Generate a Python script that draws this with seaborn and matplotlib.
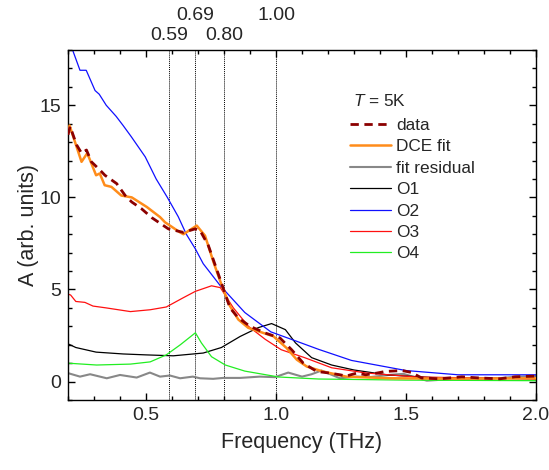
import matplotlib
matplotlib.use('Agg')
import matplotlib.pyplot as plt
import seaborn as sns
import numpy as np

# frequency (THz) / amplitude pairs
data_f = [0.2, 0.208, 0.233, 0.252, 0.271, 0.29, 0.323, 0.342, 0.387, 0.42, 0.445, 0.483, 0.522, 0.586,
          0.644, 0.689, 0.708, 0.74, 0.785, 0.823, 0.855, 0.9, 0.958, 1.015, 1.06, 1.105, 1.157, 1.208,
          1.246, 1.27, 1.31, 1.345, 1.387, 1.42, 1.485, 1.52, 1.56, 1.63, 1.715, 1.78, 1.86, 1.92, 2.0]
data_a = [13.4, 13.85, 12.85, 12.4, 12.57, 11.93, 11.48, 11.2, 10.75, 10.1, 9.75, 9.38, 8.9, 8.29,
          8.1, 8.29, 8.2, 7.38, 5.56, 4.0, 3.46, 3.0, 2.64, 2.37, 1.73, 1.0, 0.55, 0.46,
          0.37, 0.3, 0.46, 0.37, 0.46, 0.55, 0.6, 0.5, 0.2, 0.15, 0.26, 0.2, 0.15, 0.26, 0.3]

fit_f = [0.2, 0.206, 0.252, 0.274, 0.308, 0.322, 0.341, 0.367, 0.405, 0.445, 0.503, 0.554, 0.573, 0.631,
         0.644, 0.695, 0.727, 0.76, 0.792, 0.823, 0.855, 0.893, 0.932, 0.99, 1.041, 1.08, 1.118, 1.18,
         1.27, 1.44, 1.7, 2.0]
fit_a = [13.5, 13.9, 11.93, 12.4, 11.2, 11.3, 10.66, 10.57, 10.1, 10.0, 9.48, 8.93, 8.65, 8.1,
         8.0, 8.47, 7.92, 6.47, 5.19, 4.1, 3.37, 2.92, 2.73, 2.46, 1.82, 1.19, 0.82, 0.55,
         0.27, 0.18, 0.16, 0.18]

res_f = [0.2, 0.246, 0.285, 0.349, 0.4, 0.464, 0.515, 0.554, 0.592, 0.631, 0.68, 0.708, 0.758, 0.797,
         0.862, 0.938, 0.996, 1.047, 1.1, 1.137, 1.175, 1.246, 1.31, 1.36, 1.44, 1.49, 1.58, 1.69,
         1.79, 1.92, 2.0]
res_a = [0.46, 0.27, 0.4, 0.18, 0.36, 0.22, 0.49, 0.27, 0.33, 0.18, 0.27, 0.18, 0.15, 0.2,
         0.2, 0.27, 0.24, 0.49, 0.27, 0.4, 0.6, 0.18, 0.27, 0.24, 0.37, 0.42, 0.05, 0.15,
         0.1, 0.26, 0.3]

o1_f = [0.2, 0.23, 0.308, 0.412, 0.5, 0.605, 0.72, 0.79, 0.862, 0.932, 0.983, 1.036, 1.075, 1.137,
        1.214, 1.3, 1.43, 1.6, 2.0]
o1_a = [2.05, 1.85, 1.6, 1.5, 1.45, 1.4, 1.55, 1.85, 2.45, 2.93, 3.15, 2.82, 2.1, 1.3,
        0.9, 0.63, 0.36, 0.22, 0.15]

o2_f = [0.2, 0.215, 0.246, 0.27, 0.304, 0.32, 0.347, 0.385, 0.412, 0.443, 0.497, 0.539, 0.582, 0.624,
        0.655, 0.69, 0.72, 0.786, 0.88, 0.98, 1.087, 1.164, 1.29, 1.5, 1.7, 2.0]
o2_a = [18.7, 18.1, 16.9, 16.9, 15.8, 15.6, 15.0, 14.4, 13.9, 13.3, 12.2, 11.0, 10.0, 8.95,
        8.0, 7.2, 6.4, 5.2, 3.75, 2.7, 2.15, 1.75, 1.15, 0.6, 0.37, 0.37]

o3_f = [0.2, 0.21, 0.23, 0.265, 0.296, 0.347, 0.44, 0.516, 0.578, 0.643, 0.69, 0.752, 0.786, 0.836,
        0.894, 0.958, 1.02, 1.11, 1.214, 1.345, 1.54, 2.0]
o3_a = [4.75, 4.7, 4.35, 4.3, 4.1, 4.0, 3.8, 3.9, 4.05, 4.55, 4.9, 5.2, 5.1, 4.0,
        3.0, 2.3, 1.73, 1.3, 0.75, 0.47, 0.25, 0.15]

o4_f = [0.2, 0.31, 0.44, 0.516, 0.578, 0.632, 0.69, 0.713, 0.752, 0.805, 0.88, 1.01, 1.164, 1.5, 2.0]
o4_a = [1.0, 0.9, 0.95, 1.07, 1.45, 2.0, 2.65, 2.1, 1.35, 0.9, 0.57, 0.25, 0.14, 0.08, 0.05]

peak_freqs = [0.59, 0.69, 0.80, 1.00]
peak_labels = ['0.59', '0.69', '0.80', '1.00']

sns.set_style('ticks')
plt.rcParams['font.family'] = ['Liberation Sans', 'DejaVu Sans']
plt.rcParams['mathtext.fontset'] = 'custom'
plt.rcParams['mathtext.it'] = 'Liberation Sans:italic'
plt.rcParams['mathtext.rm'] = 'Liberation Sans'

fig = plt.figure(figsize=(5.49, 4.70), dpi=100)
ax = fig.add_axes([0.1239, 0.1489, 0.8524, 0.7447])

sns.lineplot(x=data_f, y=data_a, ax=ax, color='#8B0000', lw=2.0, linestyle=(0, (3, 2)), label='data', zorder=5)
sns.lineplot(x=fit_f, y=fit_a, ax=ax, color='#FF8C1A', lw=1.8, label='DCE fit', zorder=4)
sns.lineplot(x=res_f, y=res_a, ax=ax, color='#888888', lw=1.5, label='fit residual')
sns.lineplot(x=o1_f, y=o1_a, ax=ax, color='black', lw=0.9, label='O1')
sns.lineplot(x=o2_f, y=o2_a, ax=ax, color='#1010FF', lw=0.9, label='O2')
sns.lineplot(x=o3_f, y=o3_a, ax=ax, color='#FF1010', lw=0.9, label='O3')
sns.lineplot(x=o4_f, y=o4_a, ax=ax, color='#22EE22', lw=0.9, label='O4')

for i, f in enumerate(peak_freqs):
    ax.axvline(f, color='black', lw=0.7, linestyle=(0, (1, 1)), zorder=1)
    ypos = 1.10 if i % 2 == 1 else 1.041
    ax.text(f, ypos, peak_labels[i], transform=ax.get_xaxis_transform(),
            ha='center', va='center', fontsize=14)

ax.set_xlim(0.2, 2.0)
ax.set_ylim(-1, 18)
ax.set_xticks([0.5, 1.0, 1.5, 2.0])
ax.set_xticks(np.arange(0.2, 2.01, 0.1), minor=True)
ax.set_yticks([0, 5, 10, 15])
ax.set_yticks(np.arange(-1, 18.1, 1), minor=True)
ax.tick_params(which='both', direction='in', top=True, right=True, labelsize=14, width=1.0, color='black')
ax.tick_params(which='major', length=5, pad=5)
ax.tick_params(which='minor', length=3)
for s in ax.spines.values():
    s.set_linewidth(1.0)
    s.set_color('black')

ax.set_xlabel('Frequency (THz)', fontsize=15.5, labelpad=6)
ax.set_ylabel('A (arb. units)', fontsize=15.5, labelpad=0)

ax.text(0.608, 0.855, '$T$ = 5K', transform=ax.transAxes, fontsize=12.4, ha='left', va='center')
ax.legend(loc='upper left', bbox_to_anchor=(0.585, 0.831), frameon=False,
          fontsize=12.4, handlelength=2.35, handletextpad=0.3,
          labelspacing=0.37, borderpad=0)

fig.savefig('out.png', dpi=100)
